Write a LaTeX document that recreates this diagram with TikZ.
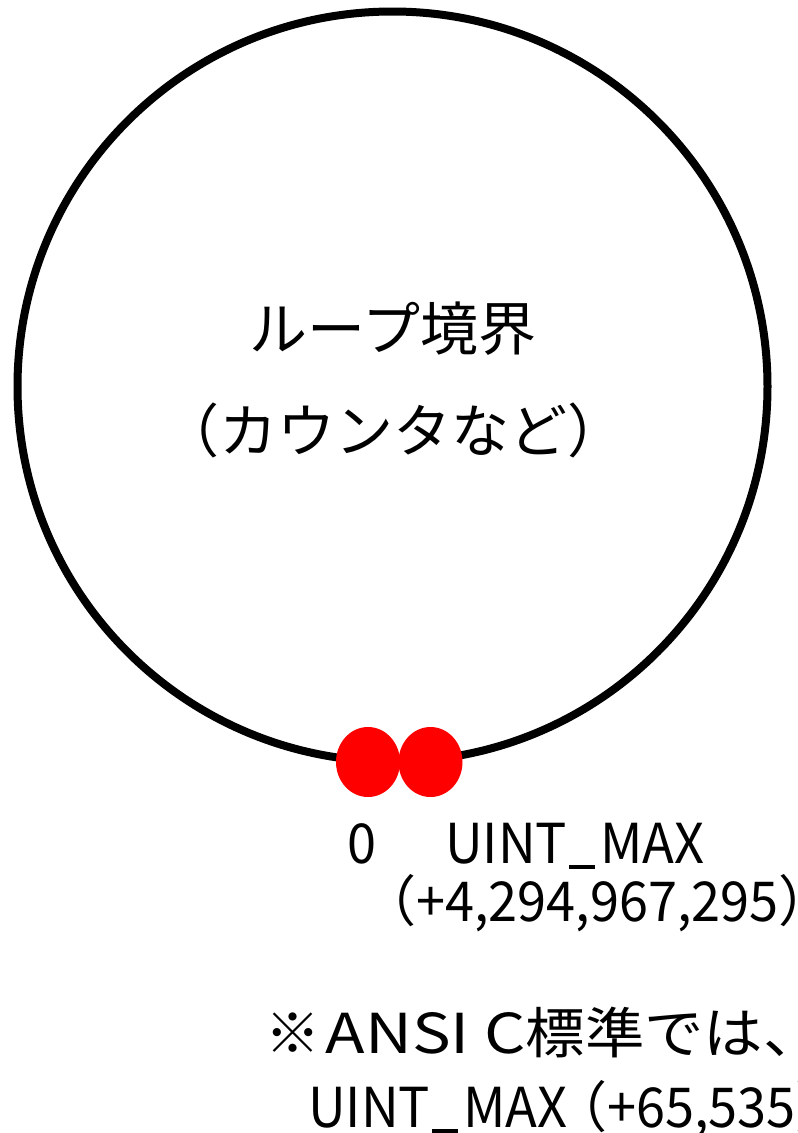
\documentclass[tikz,border=0pt]{standalone}
\usepackage{fontspec}
\usetikzlibrary{shapes.geometric}
\setmainfont{Noto Sans CJK JP}
\newfontfamily\latn[FakeStretch=0.95]{Noto Sans CJK JP}
\newfontfamily\latw[FakeStretch=1.18]{Noto Sans CJK JP}
\newfontfamily\jpw[FakeStretch=1.08]{Noto Sans CJK JP}
\newcommand{\us}{\hspace{0.04em}\rule[-0.1em]{0.46em}{0.07em}\hspace{0.1em}}
\begin{document}
\begin{tikzpicture}[x=1pt,y=-1pt]
\tikzset{
  ring/.style={circle, draw=black, line width=8pt, minimum size=750pt, inner sep=0pt, outer sep=0pt},
  dot/.style={ellipse, fill=red, minimum width=64pt, minimum height=70pt, inner sep=0pt},
  bigtxt/.style={font=\fontsize{58}{60}\selectfont, inner sep=0pt},
  lowtxt/.style={font=\fontsize{55}{60}\selectfont, inner sep=0pt},
}
\useasboundingbox (0,0) rectangle (798,1133);
\node[ring] (loop) at (392.5,386.5) {};
\node[bigtxt, anchor=base] (t1) at (393,350) {ループ境界};
\node[bigtxt, anchor=base] (t2) at (393,452) {（カウンタなど）};
\node[dot] (d0) at (368,762) {};
\node[dot] (d1) at (430.5,762) {};
\node[lowtxt, anchor=base west] (zero) at (347,863) {\latn 0};
\node[lowtxt, anchor=base west] (umax) at (445,863) {\latn UINT\us MAX};
\node[lowtxt, anchor=base west] (uval) at (361,921) {（\latn +4,294,967,295\normalfont ）};
\node[lowtxt, anchor=base west] (note1) at (265,1053) {※\hspace{0.1em}{\latw ANSI C}{\jpw 標準では、}};
\node[lowtxt, anchor=base west] (note2) at (308,1127) {{\latn UINT\us MAX}\hspace{-0.28em}（\latn +65,535\normalfont ）};
\end{tikzpicture}
\end{document}
